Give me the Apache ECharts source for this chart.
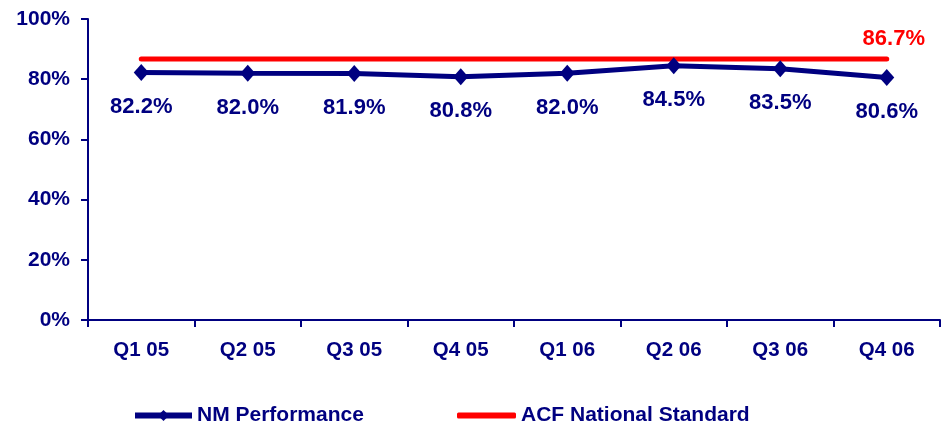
<!DOCTYPE html>
<html>
<head>
<meta charset="utf-8">
<script src="https://cdn.jsdelivr.net/npm/echarts@6/dist/echarts.min.js"></script>
<style>
  html, body { margin: 0; padding: 0; background: #fff; }
  #chart { width: 942px; height: 423px; }
</style>
</head>
<body>
<div id="chart"></div>
<script>
// Quarterly performance vs. the national standard
const quarters = ['Q1 05', 'Q2 05', 'Q3 05', 'Q4 05', 'Q1 06', 'Q2 06', 'Q3 06', 'Q4 06'];
const nmPerformance = [82.2, 82.0, 81.9, 80.8, 82.0, 84.5, 83.5, 80.6];
const acfStandard = [86.7, 86.7, 86.7, 86.7, 86.7, 86.7, 86.7, 86.7];
const yTicks = { min: 0, max: 100, interval: 20 };

const NAVY = '#000080';
const RED = '#ff0000';
const FONT = '"Liberation Sans", Arial, sans-serif';

const pct = v => v.toFixed(1) + '%';

const chart = echarts.init(document.getElementById('chart'), null, { renderer: 'canvas' });

// Only the last point of the standard line carries a value label
const standardData = acfStandard.map((v, i) => i === acfStandard.length - 1
  ? {
      value: v,
      label: {
        show: true, position: 'top', distance: 9, offset: [7, 0],
        color: RED, fontSize: 22, fontWeight: 'bold', fontFamily: FONT,
        formatter: p => pct(p.value)
      }
    }
  : v);

chart.setOption({
  animation: false,
  backgroundColor: '#fff',
  grid: { left: 88, right: 2, top: 19, bottom: 103, containLabel: false },
  legend: [
    {
      data: ['NM Performance'],
      left: 132, top: 405, padding: 0,
      itemWidth: 57, itemHeight: 14,
      lineStyle: { width: 6 },
      textStyle: { color: NAVY, fontSize: 21, fontWeight: 'bold', fontFamily: FONT }
    },
    {
      data: [{ name: 'ACF National Standard', icon: 'roundRect' }],
      left: 457, top: 405, padding: 0,
      itemWidth: 59, itemHeight: 6,
      itemStyle: { color: RED },
      textStyle: { color: NAVY, fontSize: 21, fontWeight: 'bold', fontFamily: FONT }
    }
  ],
  xAxis: {
    type: 'category',
    data: quarters,
    boundaryGap: true,
    axisLine: { show: true, lineStyle: { color: NAVY, width: 2 } },
    axisTick: { show: true, inside: false, length: 7, lineStyle: { color: NAVY, width: 2 } },
    axisLabel: { color: NAVY, fontSize: 20.5, fontWeight: 'bold', fontFamily: FONT, margin: 20 },
    splitLine: { show: false }
  },
  yAxis: {
    type: 'value',
    min: yTicks.min, max: yTicks.max, interval: yTicks.interval,
    axisLine: { show: true, lineStyle: { color: NAVY, width: 2 } },
    axisTick: { show: true, inside: false, length: 7, lineStyle: { color: NAVY, width: 2 } },
    axisLabel: { color: NAVY, fontSize: 21, fontWeight: 'bold', fontFamily: FONT, margin: 18, formatter: '{value}%' },
    splitLine: { show: false }
  },
  series: [
    {
      name: 'ACF National Standard',
      type: 'line',
      data: standardData,
      symbol: 'circle',
      symbolSize: 1,
      itemStyle: { color: 'rgba(0,0,0,0)' },
      lineStyle: { color: RED, width: 5, cap: 'round' },
      z: 2
    },
    {
      name: 'NM Performance',
      type: 'line',
      data: nmPerformance,
      symbol: 'diamond',
      symbolSize: [15, 17],
      lineStyle: { color: NAVY, width: 5 },
      itemStyle: { color: NAVY },
      label: {
        show: true, position: 'bottom', distance: 15,
        color: NAVY, fontSize: 22, fontWeight: 'bold', fontFamily: FONT,
        formatter: p => pct(p.value)
      },
      z: 3
    }
  ]
});
</script>
</body>
</html>
